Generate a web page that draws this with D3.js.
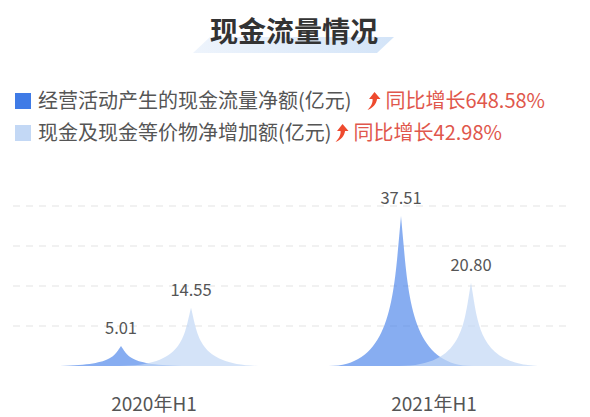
<!DOCTYPE html>
<html>
<head>
<meta charset="utf-8">
<script src="https://cdn.jsdelivr.net/npm/d3@7/dist/d3.min.js"></script>
<style>
  html, body { margin: 0; padding: 0; background: #fff; }
  svg { display: block; font-family: "Noto Sans CJK SC", "Noto Sans", sans-serif; }
</style>
</head>
<body>
<svg id="chart" width="590" height="417"></svg>
<script>
// Cash-flow overview, H1 2020 vs H1 2021 (unit: 亿元)
const title = "现金流量情况";
const categories = ["2020年H1", "2021年H1"];
const seriesNames = ["经营活动产生的现金流量净额(亿元)", "现金及现金等价物净增加额(亿元)"];
const operatingCash = [5.01, 37.51];
const netIncrease = [14.55, 20.80];
const growthLabels = ["同比增长648.58%", "同比增长42.98%"];
const gridTicks = [10, 20, 30, 40];

const seriesValues = [operatingCash, netIncrease];
const seriesColors = ["#3d7be8", "#c3d8f5"];
const seriesOpacity = [0.62, 0.72];

const svg = d3.select("#chart");

// ---- title with slanted highlight band ----
const bandGrad = svg.append("defs").append("linearGradient")
  .attr("id", "titleBand").attr("x1", "0").attr("x2", "1");
bandGrad.append("stop").attr("offset", "0").attr("stop-color", "#eef4fc");
bandGrad.append("stop").attr("offset", "1").attr("stop-color", "#d3e4f8");

svg.append("path")
  .attr("d", "M193,53 L210,37 L394,37 L377,53 Z")
  .attr("fill", "url(#titleBand)");

svg.append("text")
  .attr("x", 294).attr("y", 42)
  .attr("text-anchor", "middle")
  .attr("font-size", 28).attr("font-weight", 700)
  .attr("fill", "#333")
  .text(title);

// ---- legend ----
const legendRows = [108, 140];
const arrowGaps = [15, 3];
const arrowPath = "M8,0 L14,7 L10.5,7 C10,12 6,16 1,18 C4,15 6.5,11 6,7 L2.5,7 Z";

seriesNames.forEach((name, i) => {
  const base = legendRows[i];
  svg.append("rect")
    .attr("x", 15).attr("y", base - 15)
    .attr("width", 16).attr("height", 16)
    .attr("fill", i === 0 ? "#3f7be6" : "#c3d8f5");
  const t = svg.append("text")
    .attr("x", 38).attr("y", base)
    .attr("font-size", 20).attr("fill", "#555")
    .text(name);
  const end = 38 + t.node().getComputedTextLength();
  const ax = end + arrowGaps[i];
  svg.append("path")
    .attr("d", arrowPath)
    .attr("transform", `translate(${ax},${base - 16})`)
    .attr("fill", "#ee4a2e");
  svg.append("text")
    .attr("x", ax + 19).attr("y", base)
    .attr("font-size", 20).attr("fill", "#e0574c")
    .text(growthLabels[i]);
});

// ---- scales ----
const y = d3.scaleLinear().domain([0, 40]).range([366, 206]);
const x = d3.scaleBand().domain(categories).range([16, 576]);
const xs = d3.scaleBand().domain(seriesNames)
  .range([0, x.bandwidth()]).paddingOuter(1);

// ---- dashed grid ----
svg.append("g")
  .selectAll("line")
  .data(gridTicks)
  .join("line")
  .attr("x1", 13).attr("x2", 572)
  .attr("y1", d => y(d)).attr("y2", d => y(d))
  .attr("stroke", "#e4e4e4")
  .attr("stroke-width", 1.2)
  .attr("stroke-dasharray", "7,6");

// ---- spike-shaped pictorial bars ----
function spike(cx, v) {
  const w = xs.step() * 2.06;
  const x0 = cx - w / 2;
  const top = y(v), bot = y(0), h = bot - top;
  const p = d3.path();
  p.moveTo(x0, bot);
  p.bezierCurveTo(x0 + 0.45 * w, bot, x0 + 0.45 * w, top + h / 2, x0 + 0.5 * w, top);
  p.bezierCurveTo(x0 + 0.55 * w, top + h / 2, x0 + 0.55 * w, bot, x0 + w, bot);
  p.closePath();
  return p.toString();
}

seriesNames.forEach((name, si) => {
  const g = svg.append("g");
  g.selectAll("path")
    .data(categories.map((c, ci) => ({ c, v: seriesValues[si][ci] })))
    .join("path")
    .attr("d", d => spike(x(d.c) + xs(name) + xs.bandwidth() / 2, d.v))
    .attr("fill", seriesColors[si])
    .attr("fill-opacity", seriesOpacity[si]);
  g.selectAll("text")
    .data(categories.map((c, ci) => ({ c, v: seriesValues[si][ci] })))
    .join("text")
    .attr("x", d => x(d.c) + xs(name) + xs.bandwidth() / 2)
    .attr("y", d => y(d.v) - 12)
    .attr("text-anchor", "middle")
    .attr("font-size", 16.5).attr("fill", "#555")
    .text(d => d.v.toFixed(2));
});

// ---- category axis labels ----
svg.append("g")
  .selectAll("text")
  .data(categories)
  .join("text")
  .attr("x", d => x(d) + x.bandwidth() / 2 - 2)
  .attr("y", 411)
  .attr("text-anchor", "middle")
  .attr("font-size", 19).attr("fill", "#555")
  .text(d => d);
</script>
</body>
</html>
